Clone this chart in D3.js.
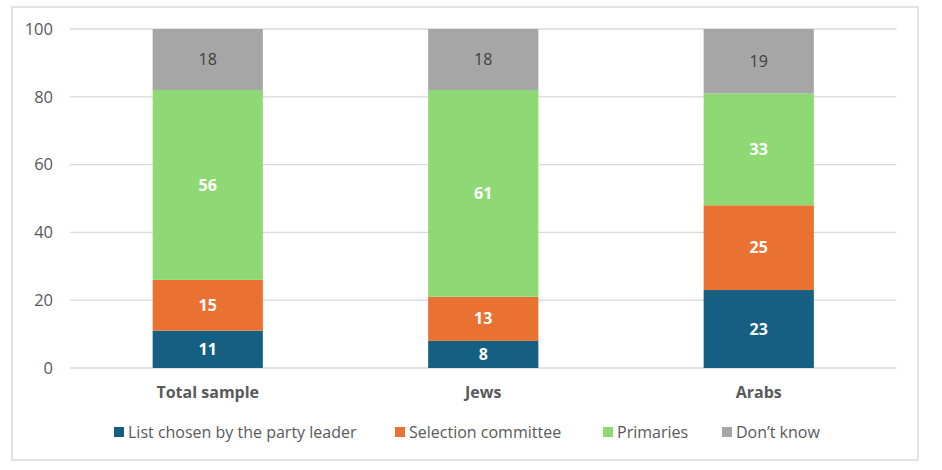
<!DOCTYPE html>
<html lang="en">
<head>
<meta charset="UTF-8">
<title>Stacked bars</title>
<script src="https://cdn.jsdelivr.net/npm/d3@7"></script>
<style>
  body { margin: 0; background: #fff; }
  svg text { font-family: "Open Sans", Roboto, "Liberation Sans", sans-serif; }
</style>
</head>
<body>
<svg id="chart" width="942" height="470"></svg>
<script>
var categories = ["Total sample", "Jews", "Arabs"];
var seriesNames = ["List chosen by the party leader", "Selection committee", "Primaries", "Don\u2019t know"];
var leaderVals = [11, 8, 23];
var committeeVals = [15, 13, 25];
var primariesVals = [56, 61, 33];
var dontKnowVals = [18, 18, 19];
var yTicks = [0, 20, 40, 60, 80, 100];

var colors = ["#156082", "#E97132", "#8ED973", "#A6A6A6"];
var labelColors = ["#fff", "#fff", "#fff", "#404040"];
var labelWeights = ["bold", "bold", "bold", "normal"];

var rows = categories.map(function (c, i) {
    return {cat: c, s0: leaderVals[i], s1: committeeVals[i], s2: primariesVals[i], s3: dontKnowVals[i]};
});
var stack = d3.stack().keys(["s0", "s1", "s2", "s3"])(rows);

var svg = d3.select("#chart");

// outer frame
svg.append("rect")
    .attr("x", 12).attr("y", 7).attr("width", 906).attr("height", 453)
    .attr("fill", "#fff").attr("stroke", "#d9d9d9").attr("stroke-width", 1.5);

var x = d3.scaleBand().domain(categories).range([70, 896.5]).paddingInner(0.6).paddingOuter(0.3);
var y = d3.scaleLinear().domain([0, 100]).range([368, 29]);

// gridlines
svg.append("g").selectAll("line").data(yTicks).join("line")
    .attr("x1", 70).attr("x2", 896.5)
    .attr("y1", function (d) { return y(d); }).attr("y2", function (d) { return y(d); })
    .attr("stroke", "#d9d9d9").attr("stroke-width", 1.3);

svg.append("g").selectAll("text").data(yTicks).join("text")
    .attr("x", 53).attr("y", function (d) { return y(d); })
    .attr("dy", "0.35em").attr("text-anchor", "end")
    .attr("font-size", 16.5).attr("fill", "#595959")
    .text(function (d) { return d; });

// bars
var layers = svg.append("g").selectAll("g").data(stack).join("g")
    .attr("fill", function (d, i) { return colors[i]; });

layers.selectAll("rect").data(function (d) { return d; }).join("rect")
    .attr("x", function (d) { return x(d.data.cat); })
    .attr("width", x.bandwidth())
    .attr("y", function (d) { return y(d[1]); })
    .attr("height", function (d) { return y(d[0]) - y(d[1]); });

layers.each(function (layer, i) {
    d3.select(this).selectAll("text").data(layer).join("text")
        .attr("x", function (d) { return x(d.data.cat) + x.bandwidth() / 2; })
        .attr("y", function (d) { return (y(d[0]) + y(d[1])) / 2; })
        .attr("dy", "0.35em").attr("text-anchor", "middle")
        .attr("font-size", 16)
        .attr("font-weight", labelWeights[i])
        .attr("fill", labelColors[i])
        .text(function (d) { return d[1] - d[0]; });
});

// category labels
svg.append("g").selectAll("text").data(categories).join("text")
    .attr("x", function (d) { return x(d) + x.bandwidth() / 2; })
    .attr("y", 392).attr("dy", "0.35em").attr("text-anchor", "middle")
    .attr("font-size", 16).attr("font-weight", "bold").attr("fill", "#595959")
    .text(function (d) { return d; });

// legend
var legendX = [114, 395, 603, 722];
var legend = svg.append("g").selectAll("g").data(seriesNames).join("g")
    .attr("transform", function (d, i) { return "translate(" + legendX[i] + ",432)"; });
legend.append("rect")
    .attr("x", 0).attr("y", -5).attr("width", 10).attr("height", 10)
    .attr("fill", function (d, i) { return colors[i]; });
legend.append("text")
    .attr("x", 14).attr("dy", "0.35em")
    .attr("font-size", 16).attr("fill", "#595959")
    .text(function (d) { return d; });
</script>
</body>
</html>
